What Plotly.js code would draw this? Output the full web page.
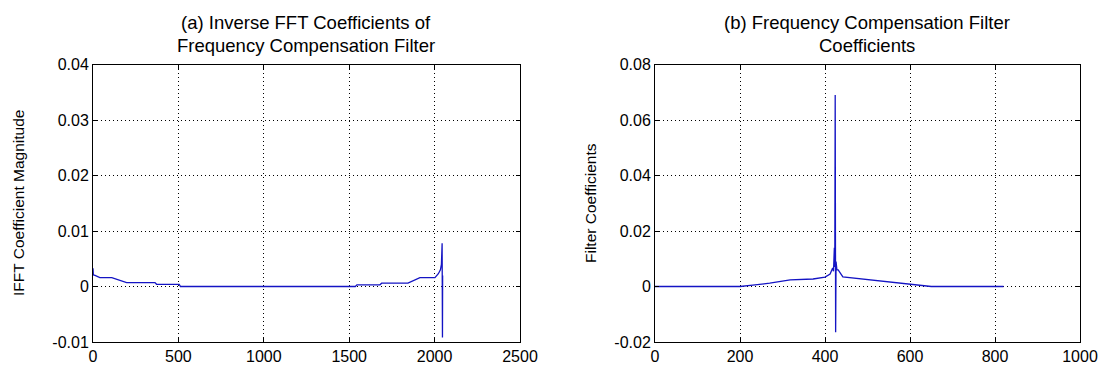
<!DOCTYPE html>
<html>
<head>
<meta charset="utf-8">
<script src="https://cdn.plot.ly/plotly-3.0.1.min.js"></script>
<style>
  html, body { margin: 0; padding: 0; background: #ffffff; }
  #chart { width: 1106px; height: 372px; }
</style>
</head>
<body>
<div id="chart"></div>
<script>
// (a) Inverse FFT coefficient magnitude: sample index and value at each breakpoint
const ifftIndex = [0, 2, 12, 40, 110, 197, 363, 372, 505, 512, 1536, 1545, 1680, 1690, 1844, 1880, 1914, 2002, 2022, 2034, 2040, 2044, 2046, 2047];
const ifftValue = [0.0033, 0.0021, 0.0020, 0.0016, 0.0016, 0.0007, 0.0007, 0.0004, 0.0004, 0.0, 0.0, 0.0003, 0.0003, 0.0006, 0.0006, 0.0011, 0.0016, 0.0016, 0.0023, 0.0030, 0.0040, 0.0078, -0.0092, 0.0020];

// (b) Frequency compensation filter taps
const tapIndex = [0, 200, 230, 270, 318, 372, 400, 412, 418, 420, 422, 423, 424, 425, 426, 428, 431, 442, 506, 569, 640, 650, 820];
const tapValue = [0.0, 0.0, 0.0005, 0.0012, 0.0024, 0.0027, 0.0034, 0.0045, 0.0067, 0.0055, 0.0140, 0.0070, 0.0690, -0.0165, 0.0090, 0.0060, 0.0060, 0.0035, 0.0024, 0.0012, 0.0002, 0.0, 0.0];

// Tick labels
const xTicksA = [0, 500, 1000, 1500, 2000, 2500];
const yTicksA = [-0.01, 0, 0.01, 0.02, 0.03, 0.04];
const yLabelsA = ['-0.01', '0', '0.01', '0.02', '0.03', '0.04'];
const xTicksB = [0, 200, 400, 600, 800, 1000];
const yTicksB = [-0.02, 0, 0.02, 0.04, 0.06, 0.08];
const yLabelsB = ['-0.02', '0', '0.02', '0.04', '0.06', '0.08'];

// Subplot titles, one entry per line
const titleA = ['(a) Inverse FFT Coefficients of', 'Frequency Compensation Filter'];
const titleB = ['(b) Frequency Compensation Filter', 'Coefficients'];
const yTitleA = 'IFFT Coefficient Magnitude';
const yTitleB = 'Filter Coefficients';

const W = 1106, H = 372;
const px = v => v / W;
const py = v => 1 - v / H;

const FONT = 'Liberation Sans, Arial, sans-serif';
const lineStyle = { color: '#1414c4', width: 1.3 };

const traces = [
  { x: ifftIndex, y: ifftValue, type: 'scatter', mode: 'lines', line: lineStyle, xaxis: 'x', yaxis: 'y', hoverinfo: 'x+y' },
  { x: tapIndex, y: tapValue, type: 'scatter', mode: 'lines', line: lineStyle, xaxis: 'x2', yaxis: 'y2', hoverinfo: 'x+y' }
];

function axisBase(extra) {
  return Object.assign({
    showline: true, mirror: 'ticks', linecolor: '#000', linewidth: 1,
    ticks: 'inside', ticklen: 4, tickcolor: '#000', tickwidth: 1,
    showgrid: true, gridcolor: '#000', gridwidth: 1, griddash: '1px,3px',
    zeroline: false, fixedrange: true,
    tickfont: { family: FONT, size: 16, color: '#000' },
    tickmode: 'array'
  }, extra);
}

// Title lines are placed one by one to keep the tight line pitch
function titleLines(lines, cx) {
  return lines.map((t, i) => ({
    text: t, xref: 'paper', yref: 'paper', x: px(cx), y: py(23 + i * 22),
    xanchor: 'center', yanchor: 'middle', showarrow: false,
    font: { family: FONT, size: 18.5, color: '#000' }
  }));
}

function yTitle(text, cx) {
  return {
    text: text, xref: 'paper', yref: 'paper', x: px(cx), y: py(203),
    xanchor: 'center', yanchor: 'middle', textangle: -90, showarrow: false,
    font: { family: FONT, size: 15.5, color: '#000' }
  };
}

const layout = {
  width: W, height: H,
  margin: { l: 0, r: 0, t: 0, b: 0 },
  paper_bgcolor: '#ffffff', plot_bgcolor: '#ffffff',
  showlegend: false,
  xaxis: axisBase({ domain: [px(93), px(520)], range: [0, 2500], tickvals: xTicksA, ticktext: xTicksA.map(String), anchor: 'y' }),
  yaxis: axisBase({ domain: [py(342), py(64.5)], range: [-0.01, 0.04], tickvals: yTicksA, ticktext: yLabelsA, anchor: 'x' }),
  xaxis2: axisBase({ domain: [px(655), px(1080)], range: [0, 1000], tickvals: xTicksB, ticktext: xTicksB.map(String), anchor: 'y2' }),
  yaxis2: axisBase({ domain: [py(342), py(64.5)], range: [-0.02, 0.08], tickvals: yTicksB, ticktext: yLabelsB, anchor: 'x2' }),
  annotations: [].concat(
    titleLines(titleA, 306),
    titleLines(titleB, 867),
    [yTitle(yTitleA, 19), yTitle(yTitleB, 591)]
  )
};

Plotly.newPlot('chart', traces, layout, { displayModeBar: false, staticPlot: true });
</script>
</body>
</html>
